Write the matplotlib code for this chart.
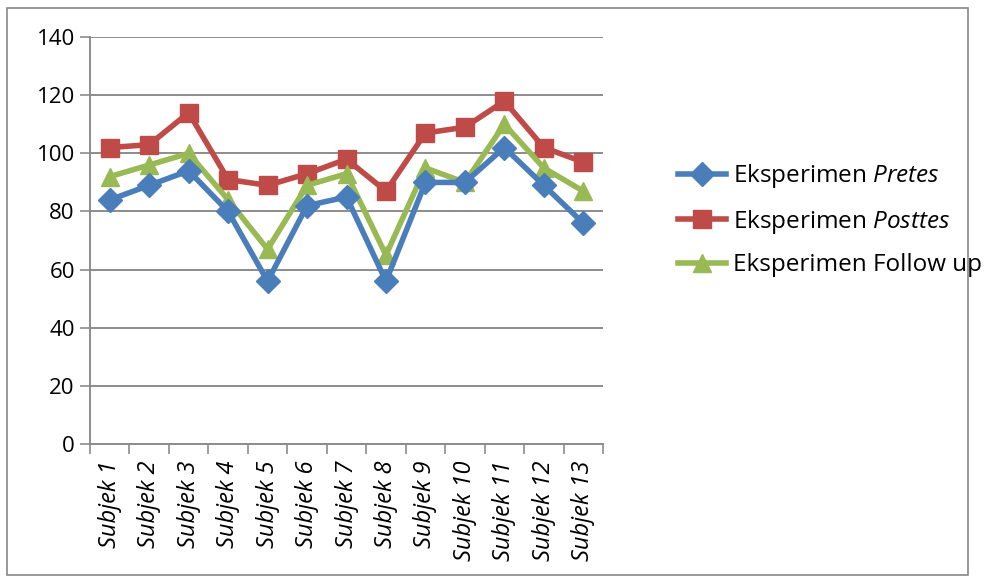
import matplotlib.pyplot as plt
from matplotlib.patches import Rectangle
import numpy as np

subjects = ["Subjek 1", "Subjek 2", "Subjek 3", "Subjek 4", "Subjek 5", "Subjek 6", "Subjek 7",
            "Subjek 8", "Subjek 9", "Subjek 10", "Subjek 11", "Subjek 12", "Subjek 13"]
pretes = [84, 89, 94, 80, 56, 82, 85, 56, 90, 90, 102, 89, 76]
posttes = [102, 103, 114, 91, 89, 93, 98, 87, 107, 109, 118, 102, 97]
follow_up = [92, 96, 100, 84, 67, 89, 93, 65, 95, 90, 110, 95, 87]

plt.rcParams["font.family"] = ["Open Sans", "DejaVu Sans"]
plt.rcParams["mathtext.fontset"] = "custom"
plt.rcParams["mathtext.it"] = "Open Sans:italic"
plt.rcParams["mathtext.rm"] = "Open Sans"

fig = plt.figure(figsize=(9.96, 5.8), dpi=100)
ax = fig.add_axes([0.0904, 0.2345, 0.515, 0.7015])

x = np.arange(len(subjects)) + 0.5
grid_c = "#8c8c8c"

ax.plot(x, pretes, color="#4A7EBB", lw=4, marker="D", ms=12, label="Eksperimen $\\mathit{Pretes}$", zorder=3)
ax.plot(x, posttes, color="#BE4B48", lw=4, marker="s", ms=13.5, label="Eksperimen $\\mathit{Posttes}$", zorder=2)
ax.plot(x, follow_up, color="#98B954", lw=4, marker="^", ms=13.5, label="Eksperimen Follow up", zorder=2.5)

ax.set_xlim(0, 13)
ax.set_ylim(0, 140)
ax.set_yticks(range(0, 141, 20))
ax.yaxis.grid(True, color=grid_c, lw=1.4)
ax.set_axisbelow(True)

ax.set_xticks(x)
ax.set_xticklabels(subjects, rotation=90, style="italic", fontsize=17)
ax.set_xticks(np.arange(0, 14), minor=True)
ax.tick_params(axis="x", which="major", length=0, pad=12)
ax.tick_params(axis="x", which="minor", length=7, color=grid_c, width=1.2)
ax.tick_params(axis="y", length=7, color=grid_c, width=1.2, labelsize=16, pad=4)

for s in ["top", "right"]:
    ax.spines[s].set_visible(False)
for s in ["left", "bottom"]:
    ax.spines[s].set_color(grid_c)
    ax.spines[s].set_linewidth(1.4)

leg = ax.legend(loc="center left", bbox_to_anchor=(0.681, 0.621), bbox_transform=fig.transFigure,
                frameon=False, fontsize=17.5, handlelength=1.95, labelspacing=0.72,
                handletextpad=0.3, borderpad=0, borderaxespad=0)

fig.patches.append(Rectangle((0.007, 0.009), 0.965, 0.978, transform=fig.transFigure,
                             fill=False, edgecolor="#888888", lw=1.2, zorder=0))

fig.savefig("out.png", dpi=100)
